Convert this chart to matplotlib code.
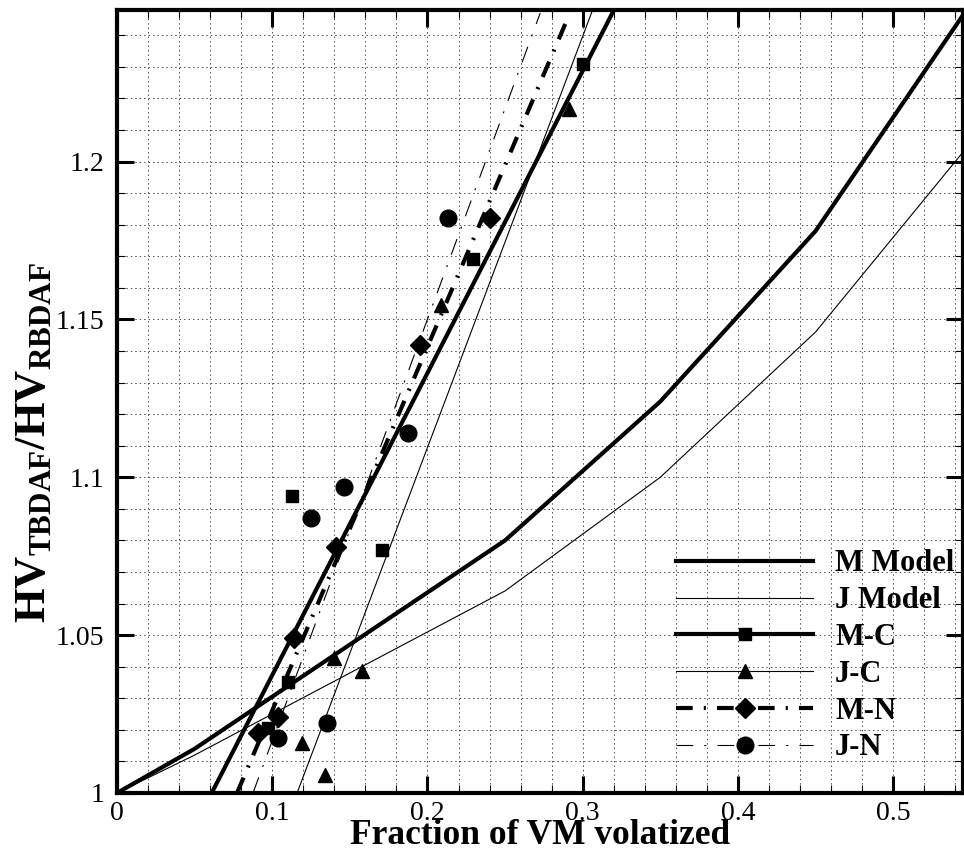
import matplotlib
matplotlib.use("Agg")
import matplotlib.pyplot as plt
from matplotlib.ticker import MultipleLocator, FormatStrFormatter

plt.rcParams['font.family'] = ['Liberation Serif', 'DejaVu Serif']
plt.rcParams['mathtext.fontset'] = 'custom'
plt.rcParams['mathtext.rm'] = 'Liberation Serif'
plt.rcParams['mathtext.bf'] = 'Liberation Serif:bold'
plt.rcParams['lines.scale_dashes'] = False

# model curves
model_x = [0.0, 0.05, 0.25, 0.35, 0.45, 0.55]
m_model_y = [1.0, 1.014, 1.080, 1.124, 1.178, 1.250]
j_model_y = [1.0, 1.012, 1.064, 1.100, 1.146, 1.206]

# experimental points
mc_x = [0.097, 0.110, 0.113, 0.171, 0.229, 0.300]
mc_y = [1.0206, 1.035, 1.094, 1.077, 1.169, 1.231]
jc_x = [0.119, 0.134, 0.140, 0.158, 0.209, 0.291]
jc_y = [1.0157, 1.0058, 1.0428, 1.0386, 1.1547, 1.2165]
mn_x = [0.091, 0.104, 0.114, 0.141, 0.195, 0.240]
mn_y = [1.019, 1.024, 1.049, 1.078, 1.142, 1.182]
jn_x = [0.104, 0.135, 0.125, 0.146, 0.1875, 0.2133]
jn_y = [1.0174, 1.0223, 1.087, 1.097, 1.114, 1.182]

# linear fits through each data set
mc_fit_x = [0.061, 0.3196]
mc_fit_y = [1.0, 1.2475]
jc_fit_x = [0.116, 0.306]
jc_fit_y = [1.0, 1.2475]
mn_fit_x = [0.0773, 0.290]
mn_fit_y = [1.0, 1.245]
jn_fit_x = [0.0876, 0.2726]
jn_fit_y = [1.0, 1.247]

fig = plt.figure(figsize=(9.64, 8.67), dpi=100)
ax = fig.add_axes([0.1214, 0.0854, 0.8776, 0.9031])

thick = 3.0
thin = 0.8
dashdot = (0, (12, 8, 1.5, 8))

ax.plot(model_x, m_model_y, color='black', lw=thick, label='M Model')
ax.plot(model_x, j_model_y, color='black', lw=thin, label='J Model')

ax.plot(mc_fit_x, mc_fit_y, color='black', lw=thick)
ax.plot(mc_x, mc_y, ls='none', marker='s', ms=9, color='black')
ax.plot(jc_fit_x, jc_fit_y, color='black', lw=thin)
ax.plot(jc_x, jc_y, ls='none', marker='^', ms=10.5, color='black')
ax.plot(mn_fit_x, mn_fit_y, color='black', lw=thick, ls=dashdot)
ax.plot(mn_x, mn_y, ls='none', marker='D', ms=10, color='black')
ax.plot(jn_fit_x, jn_fit_y, color='black', lw=thin, ls=dashdot)
ax.plot(jn_x, jn_y, ls='none', marker='o', ms=12, color='black')

# legend proxies (line + marker)
h_mc, = ax.plot([], [], color='black', lw=thick, marker='s', ms=9)
h_jc, = ax.plot([], [], color='black', lw=thin, marker='^', ms=10.5)
h_mn, = ax.plot([], [], color='black', lw=thick, ls=dashdot, marker='D', ms=10)
h_jn, = ax.plot([], [], color='black', lw=thin, ls=dashdot, marker='o', ms=12)
h_m, h_j = ax.get_lines()[:2]

ax.legend([h_m, h_j, h_mc, h_jc, h_mn, h_jn],
          ['M Model', 'J Model', 'M-C', 'J-C', 'M-N', 'J-N'],
          loc='upper left', bbox_to_anchor=(0.661, 0.311), frameon=False,
          prop={'family': 'Liberation Serif', 'weight': 'bold', 'size': 22},
          handlelength=4.48, handletextpad=0.72, labelspacing=0.255,
          numpoints=1, borderpad=0, borderaxespad=0)

ax.set_xlim(0, 0.545)
ax.set_ylim(1.0, 1.248)
ax.xaxis.set_major_locator(MultipleLocator(0.1))
ax.xaxis.set_minor_locator(MultipleLocator(0.02))
ax.yaxis.set_major_locator(MultipleLocator(0.05))
ax.yaxis.set_minor_locator(MultipleLocator(0.01))
ax.xaxis.set_major_formatter(FormatStrFormatter('%g'))
ax.yaxis.set_major_formatter(FormatStrFormatter('%g'))

ax.tick_params(which='both', direction='in', top=True, right=True)
ax.tick_params(which='major', length=12, width=2.2, labelsize=20)
ax.tick_params(axis='x', which='major', pad=6)
ax.tick_params(axis='y', which='major', pad=9)
ax.tick_params(which='minor', length=6, width=0.8)
for s in ax.spines.values():
    s.set_linewidth(3)

ax.grid(True, which='both', color='0.15', lw=0.6, ls=(0, (1, 2.2)))
ax.set_axisbelow(True)

ax.set_xlabel('Fraction of VM volatized', fontsize=25.5, fontweight='bold',
              va='baseline')
ax.xaxis.set_label_coords(0.5, -0.0655)
ax.set_ylabel(r'$\mathbf{HV_{TBDAF}/HV_{RBDAF}}$', fontsize=32)
ax.yaxis.set_label_coords(-0.0745, 0.448)

fig.savefig('out.png', dpi=100)
